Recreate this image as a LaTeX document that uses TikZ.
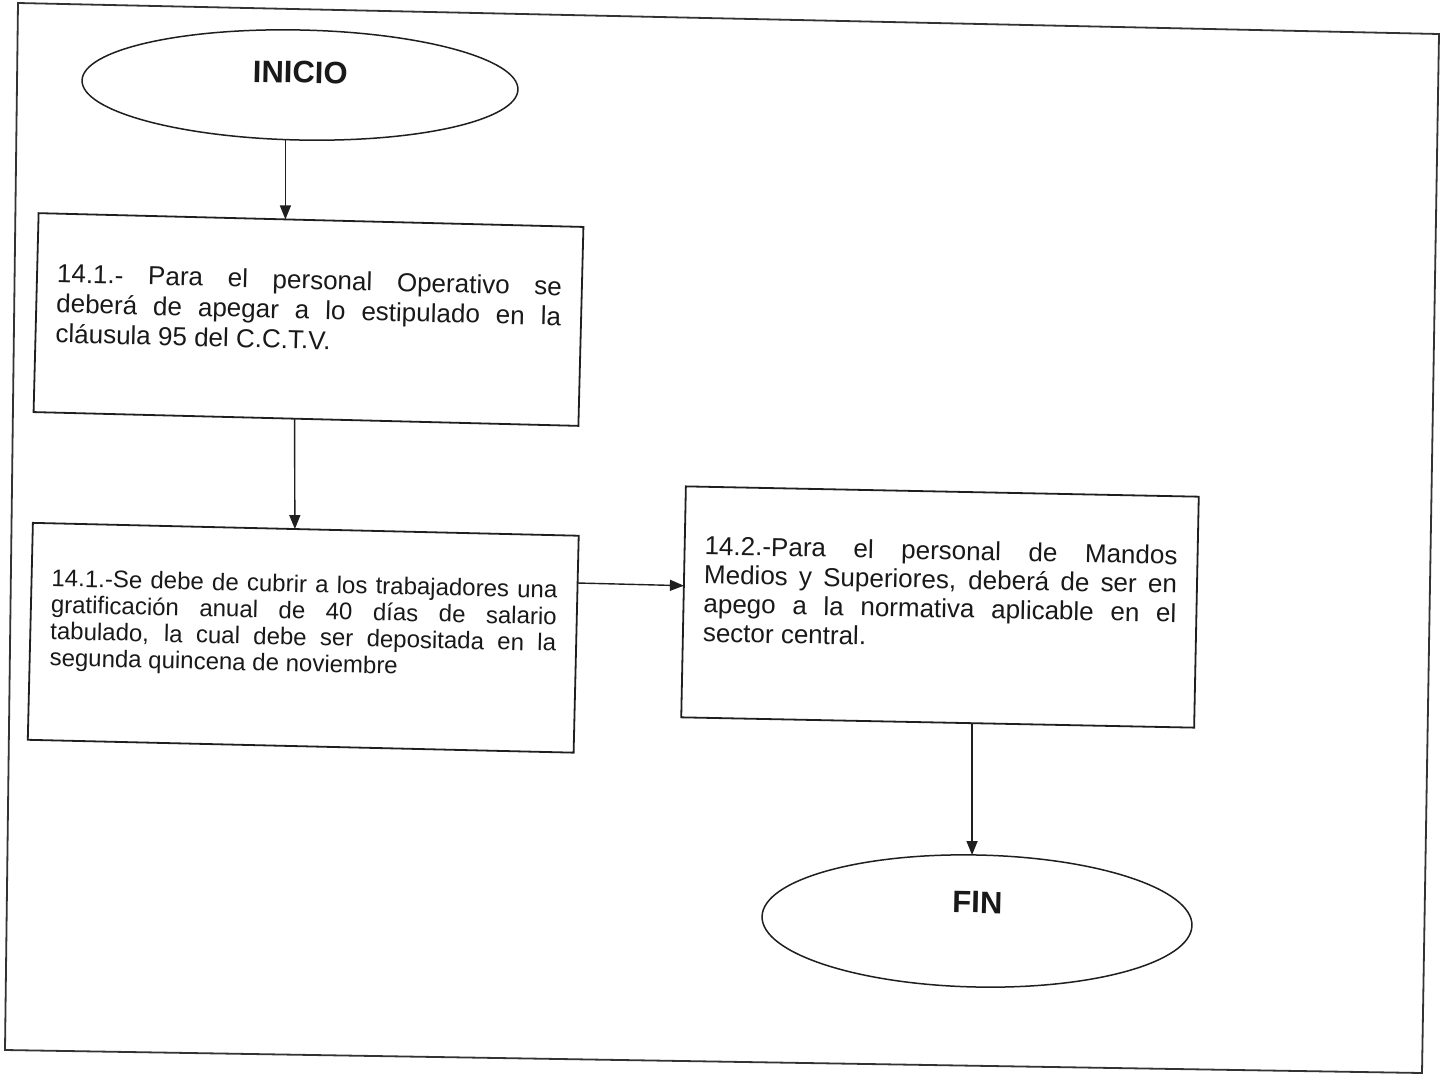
\documentclass[tikz,border=0pt]{standalone}
\usepackage{fontspec}
\setmainfont{Liberation Sans}
\usetikzlibrary{shapes.geometric,arrows.meta,calc}
% one fully justified line of a box text
\newcommand\jline[1]{\makebox[\linewidth][s]{#1}}
\begin{document}
\begin{tikzpicture}[x=1pt,y=-1pt,
  procbox/.style={draw=black!88,line width=1.8pt,rectangle,inner xsep=20pt,inner ysep=0pt,outer sep=0pt,text=black!90},
  terminal/.style={draw=black!88,line width=1.5pt,ellipse,inner sep=0pt,outer sep=0pt,text=black!90,font=\fontsize{31}{36}\selectfont\bfseries},
  flow/.style={line width=1.4pt,draw=black!88,-{Triangle[length=14pt,width=11pt]}}]

\useasboundingbox (0,0) rectangle (1445,1080);
\fill[white] (0,0) rectangle (1445,1080);

% page frame
\draw[line width=1.8pt,draw=black!80] (18,3) -- (1439,34) -- (1422,1073) -- (5,1050) -- cycle;

% start / end
\node[terminal,minimum width=436pt,minimum height=110pt,rotate=-1.2] (inicio) at (300,85)
  {\raisebox{2pt}[0pt][0pt]{INICIO}};
\node[terminal,minimum width=430pt,minimum height=132pt,rotate=-1.2] (fin) at (977,921)
  {\raisebox{8pt}[0pt][0pt]{FIN}};

% process boxes
\node[procbox,rotate=-1.45] (b1) at (308.5,319.5) {\begin{minipage}[c][199pt][t]{505pt}\fontsize{26}{30}\selectfont
  \vspace*{44pt}\jline{\rule{0pt}{25pt}14.1.- Para el personal Operativo se}\par
  \jline{deberá de apegar a lo estipulado en la}\par
  cláusula 95 del C.C.T.V.\end{minipage}};

\node[procbox,rotate=-1.35] (b2) at (303.25,637.75) {\begin{minipage}[c][217pt][t]{506pt}\fontsize{24}{26.5}\selectfont
  \vspace*{40pt}\jline{\rule{0pt}{23pt}14.1.-Se debe de cubrir a los trabajadores una}\par
  \jline{gratificación anual de 40 días de salario}\par
  \jline{tabulado, la cual debe ser depositada en la}\par
  segunda quincena de noviembre\end{minipage}};

\node[procbox,rotate=-1.15] (b3) at (940,607) {\begin{minipage}[c][231pt][t]{473pt}\fontsize{26}{29}\selectfont
  \vspace*{43pt}\jline{\rule{0pt}{25pt}14.2.-Para el personal de Mandos}\par
  \jline{Medios y Superiores, deberá de ser en}\par
  \jline{apego a la normativa aplicable en el}\par
  sector central.\end{minipage}};

% connectors
\coordinate (t1) at ($(b1.north west)!0.453!(b1.north east)$);
\draw[flow] (inicio.south -| t1) -- (t1);
\draw[flow] ($(b1.south west)!0.479!(b1.south east)$) -- ($(b2.north west)!0.48!(b2.north east)$);
\draw[flow] ($(b2.north east)!0.218!(b2.south east)$) -- ($(b3.north west)!0.43!(b3.south west)$);
\coordinate (t4) at ($(b3.south west)!0.567!(b3.south east)$);
\draw[flow] (t4) -- (fin.north -| t4);
\end{tikzpicture}
\end{document}
